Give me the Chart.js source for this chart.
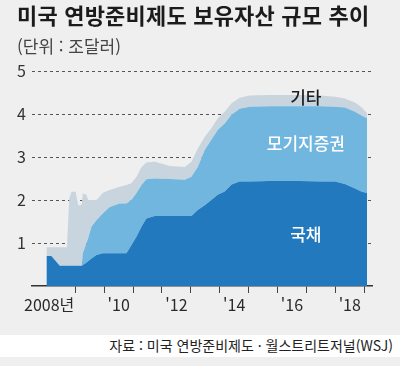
<!DOCTYPE html>
<html lang="ko">
<head>
<meta charset="utf-8">
<script src="https://cdn.jsdelivr.net/npm/chart.js@4.4.1/dist/chart.umd.min.js"></script>
<style>
    body { margin: 0; background: #efefef; }
    .wrap { position: relative; width: 400px; height: 366px; overflow: hidden; font-family: "Noto Sans CJK KR", sans-serif; }
    .wrap canvas { position: absolute; left: 0; top: 0; }
    .title { position: absolute; left: 17px; top: 3px; font-size: 22px; font-weight: 700; line-height: 1; color: #1b1b1b; letter-spacing: 0.2px; white-space: nowrap; }
    .unit { position: absolute; left: 17px; top: 37px; font-size: 17px; line-height: 1; color: #444; white-space: nowrap; }
    .source { position: absolute; left: 0; top: 335px; width: 400px; height: 22px; background: #fff; }
    .source span { position: absolute; right: 7px; top: 3px; font-size: 14px; line-height: 1; color: #222; letter-spacing: 0; white-space: nowrap; }
</style>
</head>
<body>
<div class="wrap">
    <div class="source"><span>자료 : 미국 연방준비제도 · 월스트리트저널(WSJ)</span></div>
    <canvas id="myChart" width="400" height="366"></canvas>
    <div class="title">미국 연방준비제도 보유자산 규모 추이</div>
    <div class="unit">(단위 : 조달러)</div>
</div>
<script>
// 시점 (연도, 소수)
const dates = [2008.00, 2008.17, 2008.46, 2008.71, 2008.79, 2008.87, 2009.01, 2009.10, 2009.18, 2009.22,
    2009.26, 2009.38, 2009.45, 2009.56, 2009.73, 2009.96, 2010.19, 2010.54, 2010.77, 2010.94,
    2011.12, 2011.29, 2011.46, 2011.75, 2012.27, 2012.79, 2013.02, 2013.24, 2013.48, 2013.71,
    2013.93, 2014.17, 2014.41, 2014.69, 2015.04, 2015.73, 2016.77, 2017.47, 2017.99, 2018.33,
    2018.68, 2018.92, 2019.10];

// 조달러
const treasury = [0.70, 0.70, 0.47, 0.47, 0.47, 0.47, 0.47, 0.47, 0.47, 0.47,
    0.49, 0.54, 0.58, 0.64, 0.72, 0.76, 0.76, 0.76, 0.76, 0.95,
    1.15, 1.38, 1.57, 1.63, 1.63, 1.63, 1.63, 1.77, 1.88, 2.00,
    2.12, 2.20, 2.36, 2.43, 2.43, 2.44, 2.44, 2.43, 2.43, 2.37,
    2.27, 2.19, 2.16];
const mbs = [0, 0, 0, 0, 0, 0, 0, 0, 0, 0,
    0.27, 0.45, 0.54, 0.74, 0.81, 0.93, 1.08, 1.16, 1.16, 1.05,
    1.01, 0.97, 0.91, 0.87, 0.86, 0.84, 0.91, 1.00, 1.28, 1.40,
    1.51, 1.58, 1.62, 1.69, 1.74, 1.74, 1.74, 1.75, 1.74, 1.78,
    1.78, 1.77, 1.74];
const other = [0.20, 0.20, 0.43, 0.43, 1.57, 1.72, 1.72, 1.41, 1.41, 1.43,
    1.39, 1.13, 0.88, 0.62, 0.47, 0.48, 0.39, 0.39, 0.43, 0.39,
    0.38, 0.42, 0.39, 0.39, 0.30, 0.30, 0.35, 0.43, 0.31, 0.27,
    0.27, 0.27, 0.27, 0.26, 0.26, 0.26, 0.26, 0.25, 0.23, 0.21,
    0.22, 0.19, 0.12];

const seriesNames = ["국채", "모기지증권", "기타"];
const yTicks = [1, 2, 3, 4, 5];
const xTickYears = [2009, 2010, 2011, 2012, 2013, 2014, 2015, 2016, 2017, 2018, 2019];
const xLabels = [
    { year: 2008, text: "2008년" },
    { year: 2010, text: "'10" },
    { year: 2012, text: "'12" },
    { year: 2014, text: "'14" },
    { year: 2016, text: "'16" },
    { year: 2018, text: "'18" },
];

const colors = ["#2279bd", "#70b6de", "#c8d5de"];
const FONT = '"Noto Sans CJK KR", sans-serif';

const toPoints = (arr) => arr.map((v, i) => ({ x: dates[i], y: v }));

const labelsPlugin = {
    id: "labelsPlugin",
    afterDatasetsDraw(chart) {
        const ctx = chart.ctx;
        const x = chart.scales.x;
        const y = chart.scales.y;
        ctx.save();
        ctx.textBaseline = "middle";
        ctx.font = "16px " + FONT;
        ctx.fillStyle = "#2a2a2a";
        xLabels.forEach((l) => {
            if (l.year === 2008) {
                ctx.textAlign = "right";
                ctx.fillText(l.text, x.getPixelForValue(2009) - 1, 305);
            } else {
                ctx.textAlign = "center";
                ctx.fillText(l.text, x.getPixelForValue(l.year + 0.5), 305);
            }
        });

        // 계열 이름
        const cx = x.getPixelForValue(2016.98);
        ctx.textAlign = "center";
        ctx.font = "500 17px " + FONT;
        ctx.fillStyle = "#1e1e1e";
        ctx.fillText(seriesNames[2], cx, y.getPixelForValue(4.38));
        ctx.fillStyle = "#ffffff";
        ctx.fillText(seriesNames[1], cx, y.getPixelForValue(3.31));
        ctx.fillText(seriesNames[0], cx, y.getPixelForValue(1.19));
        ctx.restore();
    },
};

new Chart(document.getElementById("myChart"), {
    type: "line",
    data: {
        datasets: [
            { label: seriesNames[0], data: toPoints(treasury), backgroundColor: colors[0], fill: "origin" },
            { label: seriesNames[1], data: toPoints(mbs), backgroundColor: colors[1], fill: "-1" },
            { label: seriesNames[2], data: toPoints(other), backgroundColor: colors[2], fill: "-1" },
        ],
    },
    options: {
        responsive: false,
        animation: false,
        layout: { padding: { left: 0, right: 28, top: 71, bottom: 0 } },
        elements: {
            line: { borderWidth: 0, tension: 0 },
            point: { radius: 0 },
        },
        plugins: {
            legend: { display: false },
            tooltip: { enabled: false },
        },
        scales: {
            x: {
                type: "linear",
                min: 2007.5,
                max: 2019.27,
                afterBuildTicks: (s) => { s.ticks = xTickYears.map((v) => ({ value: v })); },
                afterFit: (s) => { s.height = 80; },
                ticks: { display: false },
                grid: { drawOnChartArea: false, drawTicks: true, tickLength: 7, color: "#444", lineWidth: 1 },
                border: { display: true, color: "#333", width: 1.5 },
            },
            y: {
                stacked: true,
                min: 0,
                max: 5,
                afterBuildTicks: (s) => { s.ticks = [0].concat(yTicks).map((v) => ({ value: v })); },
                afterFit: (s) => { s.width = 32; },
                ticks: {
                    padding: 6,
                    color: "#333",
                    font: { family: FONT, size: 16 },
                    callback: (v) => (v === 0 ? "" : v),
                },
                grid: {
                    drawTicks: false,
                    color: (c) => (c.tick && c.tick.value === 0 ? "rgba(0,0,0,0)" : "#555"),
                    lineWidth: 1,
                },
                border: { display: false, dash: [3, 3] },
            },
        },
    },
    plugins: [labelsPlugin],
});
</script>
</body>
</html>
